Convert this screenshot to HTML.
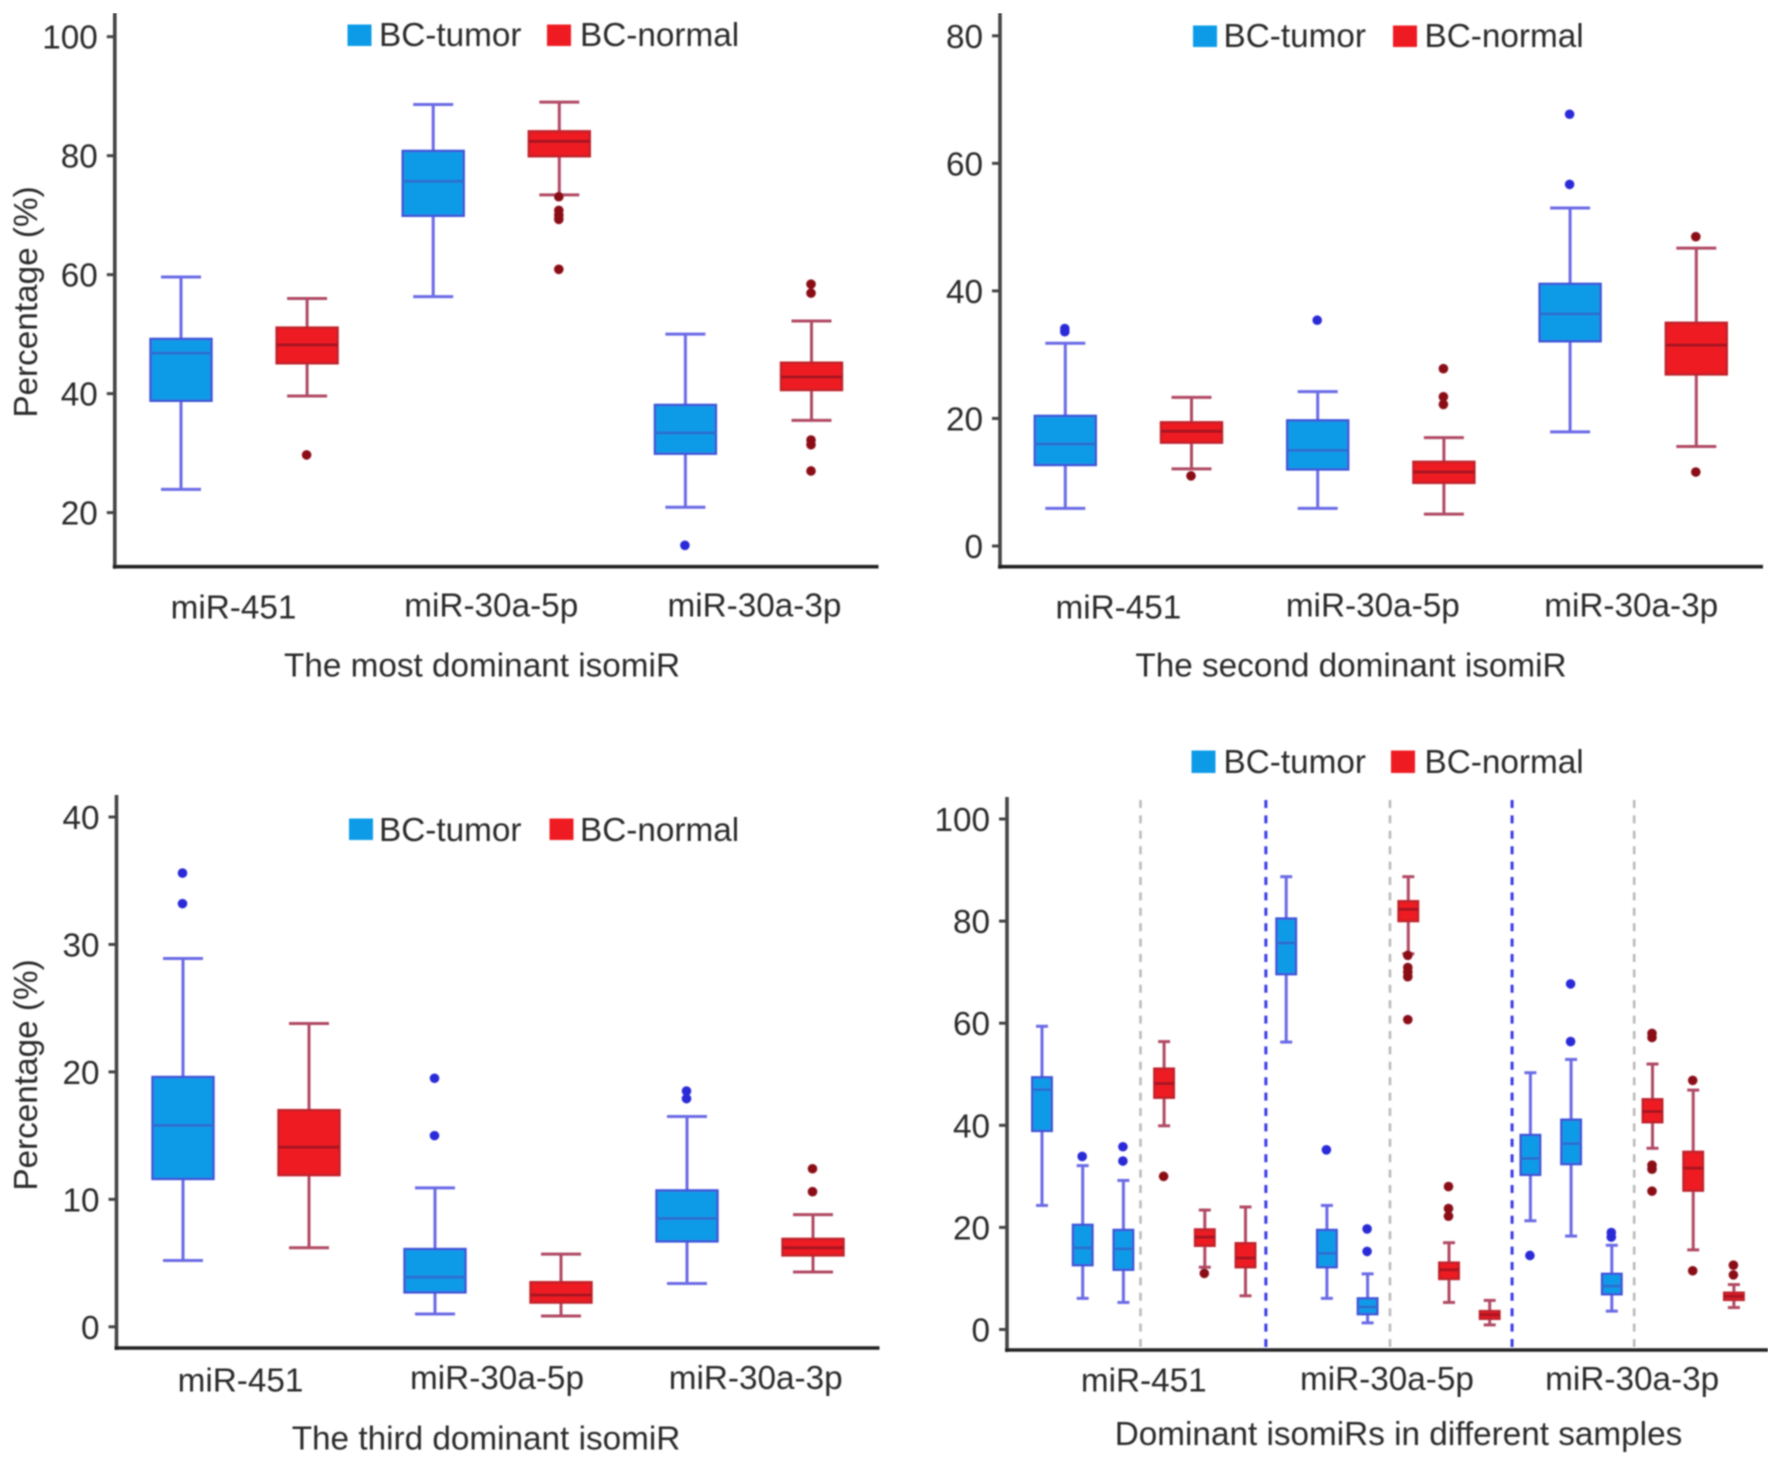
<!DOCTYPE html>
<html lang="en">
<head>
<meta charset="utf-8">
<title>Dominant isomiR percentages in BC-tumor and BC-normal samples</title>
<style>
html,body{margin:0;padding:0;background:#fff;width:1783px;height:1464px;overflow:hidden}
svg{display:block}
text{font-family:"Liberation Sans",sans-serif;font-size:33.3px;fill:#2c2c2c}
</style>
</head>
<body>
<svg id="figure" xmlns="http://www.w3.org/2000/svg" width="1783" height="1464" viewBox="0 0 1783 1464">
<defs><filter id="soft" x="0" y="0" width="100%" height="100%"><feGaussianBlur stdDeviation="0.7"/></filter></defs>
<g id="root" filter="url(#soft)">
<g>
<rect x="347.5" y="24.5" width="24" height="21.5" fill="#0a9be8"/>
<text x="379" y="46">BC-tumor</text>
<rect x="547" y="24.5" width="24" height="21.5" fill="#ee1a24"/>
<text x="580" y="46">BC-normal</text>
</g>
<g>
<rect x="1193" y="25.5" width="24" height="21.5" fill="#0a9be8"/>
<text x="1223.5" y="47">BC-tumor</text>
<rect x="1393" y="25.5" width="24" height="21.5" fill="#ee1a24"/>
<text x="1424.5" y="47">BC-normal</text>
</g>
<g>
<rect x="349" y="818.5" width="24" height="21.5" fill="#0a9be8"/>
<text x="379" y="841">BC-tumor</text>
<rect x="549.5" y="818.5" width="24" height="21.5" fill="#ee1a24"/>
<text x="580" y="841">BC-normal</text>
</g>
<g>
<rect x="1191.5" y="750.5" width="24" height="22.5" fill="#0a9be8"/>
<text x="1223.5" y="773">BC-tumor</text>
<rect x="1391" y="750.5" width="24" height="22.5" fill="#ee1a24"/>
<text x="1424.5" y="773">BC-normal</text>
</g>
<text text-anchor="middle" transform="translate(37 302) rotate(-90)">Percentage (%)</text>
<text text-anchor="middle" transform="translate(37 1075) rotate(-90)">Percentage (%)</text>
<text text-anchor="middle" x="482" y="676.5">The most dominant isomiR</text>
<text text-anchor="middle" x="1351" y="676.5">The second dominant isomiR</text>
<text text-anchor="middle" x="486" y="1449.5">The third dominant isomiR</text>
<text text-anchor="middle" x="1398.5" y="1445">Dominant isomiRs in different samples</text>
</g>
</svg>
<script>
const groupLabels = ['miR-451', 'miR-30a-5p', 'miR-30a-3p'];

const seriesPair = ['tumor', 'normal', 'tumor', 'normal', 'tumor', 'normal'];
const mostTicks = [100, 80, 60, 40, 20];
const mostHigh = [59.6, 56, 88.6, 89, 50, 52.2];
const mostQ3 = [49.2, 51.1, 80.8, 84.1, 38.1, 45.2];
const mostMedian = [46.8, 48.2, 75.7, 82.4, 33.4, 42.8];
const mostQ1 = [38.8, 45.1, 69.9, 79.9, 29.9, 40.6];
const mostLow = [23.9, 39.6, 56.3, 73.4, 20.9, 35.5];
const mostOutliers = [[], [29.7], [], [73.1, 70.8, 70, 69.3, 60.9], [14.5], [58.4, 56.9, 32.2, 31.4, 27]];

const secondTicks = [80, 60, 40, 20, 0];
const secondHigh = [31.8, 23.3, 24.2, 17, 53, 46.7];
const secondQ3 = [20.4, 19.4, 19.7, 13.2, 41.1, 35];
const secondMedian = [16, 18, 15, 11.6, 36.4, 31.5];
const secondQ1 = [12.7, 16.2, 12, 9.9, 32.1, 26.9];
const secondLow = [5.9, 12.1, 5.9, 5, 17.9, 15.6];
const secondOutliers = [[34.1, 33.6], [11], [35.4], [27.8, 23.4, 22.2], [67.7, 56.7], [48.5, 11.6]];

const thirdTicks = [40, 30, 20, 10, 0];
const thirdHigh = [28.9, 23.8, 10.9, 5.7, 16.5, 8.8];
const thirdQ3 = [19.6, 17, 6.1, 3.5, 10.7, 6.9];
const thirdMedian = [15.8, 14.1, 3.9, 2.5, 8.5, 6.2];
const thirdQ1 = [11.6, 11.9, 2.7, 1.9, 6.7, 5.6];
const thirdLow = [5.2, 6.2, 1, 0.85, 3.4, 4.3];
const thirdOutliers = [[35.6, 33.2], [], [19.5, 15], [], [18.5, 17.9], [12.4, 10.6]];

const seriesAll = ['tumor', 'tumor', 'tumor', 'normal', 'normal', 'normal', 'tumor', 'tumor', 'tumor', 'normal', 'normal', 'normal', 'tumor', 'tumor', 'tumor', 'normal', 'normal', 'normal'];
const allTicks = [100, 80, 60, 40, 20, 0];
const allHigh = [59.4, 32.1, 29.2, 56.4, 23.4, 24, 88.7, 24.3, 10.9, 88.7, 17, 5.7, 50.3, 52.9, 16.5, 52, 46.9, 8.8];
const allQ3 = [49.4, 20.5, 19.5, 51.1, 19.6, 16.9, 80.5, 19.5, 6.1, 83.9, 13.1, 3.6, 38.1, 41.1, 10.9, 45.1, 34.8, 7.2];
const allMedian = [47, 16, 15.8, 48.2, 18.1, 14, 75.7, 14.9, 4.4, 82.3, 11.7, 2.9, 33.5, 36.4, 8.5, 42.7, 31.6, 6.5];
const allQ1 = [38.9, 12.6, 11.7, 45.4, 16.4, 12.2, 69.6, 12.2, 3, 80, 9.9, 2.1, 30.3, 32.4, 6.9, 40.6, 27.2, 5.8];
const allLow = [24.3, 6.1, 5.3, 39.9, 12.2, 6.6, 56.3, 6.1, 1.3, 73.6, 5.3, 0.9, 21.3, 18.3, 3.6, 35.5, 15.6, 4.3];
const allOutliers = [[], [33.9], [35.8, 33], [30], [11], [], [], [35.2], [19.7, 15.3], [73.3, 70.9, 70, 69.1, 60.7], [28, 23.7, 22.2], [], [14.5], [67.7, 56.4], [19, 18.1], [58, 57.2, 32.2, 31.4, 27.1], [48.8, 11.5], [12.6, 10.7]];

const NS = 'http://www.w3.org/2000/svg';
const root = document.getElementById('root');
const palette = {
  tumor: { fill: '#0a9be8', edge: '#3d55d8', whisker: '#6a6ae6', median: '#2a70d0', dot: '#2a2ad8' },
  normal: { fill: '#ee1a24', edge: '#c0202c', whisker: '#b04a64', median: '#a81422', dot: '#8b0a14' }
};

function make(tag, attrs, parent) {
  const el = document.createElementNS(NS, tag);
  Object.keys(attrs).forEach(function (k) { el.setAttribute(k, attrs[k]); });
  parent.appendChild(el);
  return el;
}

function linearAxis(v0, p0, v1, p1) {
  return function (v) { return p0 + (v - v0) * (p1 - p0) / (v1 - v0); };
}

function drawPanel(panel) {
  const g = make('g', {}, root);
  
  

  const y = linearAxis(panel.ticks[0], panel.yFirst, panel.ticks[panel.ticks.length - 1], panel.yLast);
  const x = function (i) { return panel.x0 + i * panel.step; };

  (panel.separators || []).forEach(function (sep) {
    const line = make('line', {
      x1: x(sep.at), x2: x(sep.at), y1: panel.sepTop, y2: panel.axisY,
      stroke: sep.color, 'stroke-width': sep.width, 'stroke-dasharray': '8 7.4'
    }, g);
    
    
  });

  panel.series.forEach(function (series, i) {
    const c = palette[series];
    const cx = x(i);
    const box = make('g', {}, g);
    
    

    const stem = make('line', { x1: cx, x2: cx, y1: y(panel.high[i]), y2: y(panel.low[i]), stroke: c.whisker, 'stroke-width': 3 }, box);
    
    

    [panel.high[i], panel.low[i]].forEach(function (v) {
      const cap = make('line', { x1: cx - panel.capW / 2, x2: cx + panel.capW / 2, y1: y(v), y2: y(v), stroke: c.whisker, 'stroke-width': 3 }, box);
      
      
    });

    const rect = make('rect', {
      x: cx - panel.boxW / 2, y: y(panel.q3[i]), width: panel.boxW,
      height: y(panel.q1[i]) - y(panel.q3[i]),
      fill: c.fill, stroke: c.edge, 'stroke-width': 2.4
    }, box);
    
    

    const med = make('line', {
      x1: cx - panel.boxW / 2, x2: cx + panel.boxW / 2, y1: y(panel.median[i]), y2: y(panel.median[i]),
      stroke: c.median, 'stroke-width': 3
    }, box);
    
    

    panel.outliers[i].forEach(function (v) {
      const dot = make('circle', { cx: cx - 0.5, cy: y(v), r: 4.8, fill: c.dot }, box);
      
      
    });
  });

  const yAxis = make('line', { x1: panel.axisX, x2: panel.axisX, y1: panel.axisTop, y2: panel.axisY + 2, stroke: '#444', 'stroke-width': 3.6 }, g);
  
  

  const xAxis = make('line', { x1: panel.axisX - 2, x2: panel.axisEnd, y1: panel.axisY, y2: panel.axisY, stroke: '#222', 'stroke-width': 3.6 }, g);
  
  

  panel.ticks.forEach(function (t) {
    const mark = make('line', { x1: panel.axisX - 8, x2: panel.axisX, y1: y(t), y2: y(t), stroke: '#444', 'stroke-width': 3 }, g);
    
    

    const label = make('text', { x: panel.axisX - 17, y: y(t) + 12, 'text-anchor': 'end' }, g);
    label.textContent = String(t);
    
    
  });

  panel.labels.forEach(function (name, i) {
    const centre = x(panel.groupCentre + i * panel.groupSpan) + panel.labelNudge[i];
    const label = make('text', { x: centre, y: panel.labelY[i], 'text-anchor': 'middle' }, g);
    label.textContent = name;
    
    
  });
}

drawPanel({
  name: 'most-dominant', series: seriesPair, ticks: mostTicks, high: mostHigh, q3: mostQ3, median: mostMedian, q1: mostQ1, low: mostLow, outliers: mostOutliers,
  labels: groupLabels, yFirst: 36.7, yLast: 512.6, x0: 181, step: 126.1, boxW: 61, capW: 40,
  axisX: 114.8, axisTop: 13, axisY: 566.7, axisEnd: 878.5, groupCentre: 0.5, groupSpan: 2,
  labelNudge: [-10.5, -5, 6], labelY: [618.5, 616.3, 616.3]
});
drawPanel({
  name: 'second-dominant', series: seriesPair, ticks: secondTicks, high: secondHigh, q3: secondQ3, median: secondMedian, q1: secondQ1, low: secondLow, outliers: secondOutliers,
  labels: groupLabels, yFirst: 35.8, yLast: 546, x0: 1065.3, step: 126.2, boxW: 61, capW: 40,
  axisX: 1000, axisTop: 13, axisY: 566.7, axisEnd: 1763, groupCentre: 0.5, groupSpan: 2,
  labelNudge: [-10, -8, -2], labelY: [618.5, 616.3, 616.3]
});
drawPanel({
  name: 'third-dominant', series: seriesPair, ticks: thirdTicks, high: thirdHigh, q3: thirdQ3, median: thirdMedian, q1: thirdQ1, low: thirdLow, outliers: thirdOutliers,
  labels: groupLabels, yFirst: 817, yLast: 1326.8, x0: 183, step: 126, boxW: 61, capW: 40,
  axisX: 116.5, axisTop: 795, axisY: 1348, axisEnd: 879.5, groupCentre: 0.5, groupSpan: 2,
  labelNudge: [-5.5, -1, 5.7], labelY: [1391.5, 1389.2, 1389.2]
});
drawPanel({
  name: 'different-samples', series: seriesAll, ticks: allTicks, high: allHigh, q3: allQ3, median: allMedian, q1: allQ1, low: allLow, outliers: allOutliers,
  labels: groupLabels, yFirst: 819, yLast: 1329.5, x0: 1042, step: 40.7, boxW: 19.5, capW: 12,
  axisX: 1007, axisTop: 797, axisY: 1350, axisEnd: 1768, groupCentre: 2.5, groupSpan: 6,
  labelNudge: [0, -1, 0], labelY: [1391.5, 1390.2, 1390.2], sepTop: 800,
  separators: [
    { at: 2.42, color: '#bbbbbb', width: 2.6 },
    { at: 5.5, color: '#3a3ae6', width: 3 },
    { at: 8.55, color: '#bbbbbb', width: 2.6 },
    { at: 11.55, color: '#3a3ae6', width: 3 },
    { at: 14.55, color: '#bbbbbb', width: 2.6 }
  ]
});
</script>
</body>
</html>
